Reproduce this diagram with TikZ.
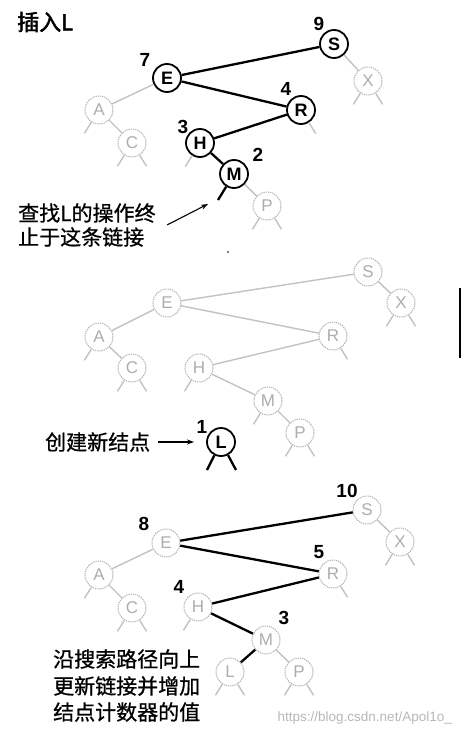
\documentclass[tikz,border=0pt]{standalone}
\usepackage{fontspec}
\newfontfamily\cjk[FakeBold=0.8]{Noto Sans CJK SC}
\newfontfamily\cjkb[FakeBold=2]{Noto Sans CJK SC}
\newfontfamily\lat{Liberation Sans}
\usetikzlibrary{arrows.meta}
\newcommand\gstubs[1]{\draw[glink] (#1.-122) -- ++(-122:13pt); \draw[glink] (#1.-58) -- ++(-58:13pt);}
\newcommand\gstubl[1]{\draw[glink] (#1.-122) -- ++(-122:13pt);}
\newcommand\gstubr[1]{\draw[glink] (#1.-58) -- ++(-58:13pt);}
\begin{document}
\begin{tikzpicture}[x=1pt,y=1pt,
  bnode/.style={circle,draw=black,line width=1.8pt,minimum size=28pt,inner sep=0pt,font=\lat\bfseries\fontsize{18}{18}\selectfont,fill=white},
  gnode/.style={circle,draw=black!30,line width=1pt,dash pattern=on 1.3pt off 0.9pt,minimum size=28pt,inner sep=0pt,font=\lat\fontsize{17}{17}\selectfont,text=black!32,fill=white},
  blink/.style={line width=2.3pt,black},
  glink/.style={line width=1.4pt,black!24},
  num/.style={font=\lat\bfseries\fontsize{19}{19}\selectfont,inner sep=0pt},
  cjktext/.style={font=\cjk\fontsize{21}{21}\selectfont,inner sep=0pt,anchor=west},
  arr/.style={line width=1.1pt,-{Stealth[length=7pt,width=5pt]}},
]
\useasboundingbox (0,0) rectangle (461,-738);
\fill[white] (0,0) rectangle (461,-738);

% ---------- top tree ----------
\node[font=\cjkb\fontsize{22}{22}\selectfont,inner sep=0pt,anchor=west] (title) at (17,-22) {插入L};
\node[bnode] (S1) at (334,-44) {S};
\node[gnode] (X1) at (368,-81) {X};
\node[bnode] (E1) at (167,-78) {E};
\node[gnode] (A1) at (99,-110) {A};
\node[gnode] (C1) at (132,-143) {C};
\node[bnode] (R1) at (301,-110) {R};
\node[bnode] (H1) at (200,-143) {H};
\node[bnode] (M1) at (234,-174) {M};
\node[gnode] (P1) at (267,-206) {P};
\node[num] (n9) at (319,-24) {9};
\node[num] (n7) at (145,-60) {7};
\node[num] (n4a) at (286,-89) {4};
\node[num] (n3a) at (183,-127) {3};
\node[num] (n2) at (258,-155) {2};
\draw[blink] (E1) -- (S1);
\draw[blink] (E1) -- (R1);
\draw[blink] (R1) -- (H1);
\draw[blink] (H1) -- (M1);
\draw[glink] (S1) -- (X1);
\draw[glink] (E1) -- (A1);
\draw[glink] (A1) -- (C1);
\draw[glink] (M1) -- (P1);
\gstubl{A1} \gstubs{C1} \gstubr{R1} \gstubl{H1} \gstubs{P1} \gstubs{X1}
\coordinate (mstub) at (218,-200);
\draw[blink] (M1) -- (mstub);
\node[cjktext] (t1a) at (18,-213) {查找L的操作终};
\node[cjktext] (t1b) at (18,-237) {止于这条链接};
\coordinate (a1s) at (167,-225);
\coordinate (a1e) at (208,-204);
\draw[arr] (a1s) -- (a1e);

% specks
\fill (228,-252) circle (0.9pt);
\draw[line width=1.4pt] (460,-288) -- (460,-358);

% ---------- middle tree ----------
\node[gnode] (S2) at (368,-272) {S};
\node[gnode] (X2) at (401,-303) {X};
\node[gnode] (E2) at (167,-303) {E};
\node[gnode] (A2) at (99,-337) {A};
\node[gnode] (C2) at (132,-368) {C};
\node[gnode] (R2) at (333,-336) {R};
\node[gnode] (H2) at (199,-368) {H};
\node[gnode] (M2) at (268,-401) {M};
\node[gnode] (P2) at (300,-433) {P};
\node[bnode] (L2) at (221,-442) {L};
\node[num] (n1) at (202,-427) {1};
\draw[glink] (S2) -- (E2);
\draw[glink] (S2) -- (X2);
\draw[glink] (E2) -- (A2);
\draw[glink] (E2) -- (R2);
\draw[glink] (A2) -- (C2);
\draw[glink] (R2) -- (H2);
\draw[glink] (H2) -- (M2);
\draw[glink] (M2) -- (P2);
\gstubl{A2} \gstubs{C2} \gstubr{R2} \gstubl{H2} \gstubl{M2} \gstubs{P2} \gstubs{X2}
\coordinate (lsl) at (207,-470);
\coordinate (lsr) at (236,-470);
\draw[blink] (L2) -- (lsl);
\draw[blink] (L2) -- (lsr);
\node[cjktext] (t2) at (45,-442) {创建新结点};
\coordinate (a2e) at (194,-442);
\draw[arr] ([xshift=8pt]t2.east) -- (a2e);

% ---------- bottom tree ----------
\node[gnode] (S3) at (367,-510) {S};
\node[gnode] (X3) at (400,-542) {X};
\node[gnode] (E3) at (166,-543) {E};
\node[gnode] (A3) at (99,-575) {A};
\node[gnode] (C3) at (132,-608) {C};
\node[gnode] (R3) at (333,-574) {R};
\node[gnode] (H3) at (198,-607) {H};
\node[gnode] (M3) at (266,-640) {M};
\node[gnode] (L3) at (230,-672) {L};
\node[gnode] (P3) at (299,-672) {P};
\node[num] (n10) at (347,-491) {10};
\node[num] (n8) at (144,-524) {8};
\node[num] (n5) at (319,-552) {5};
\node[num] (n4b) at (179,-587) {4};
\node[num] (n3b) at (284,-618) {3};
\draw[blink] (E3) -- (S3);
\draw[blink] (E3) -- (R3);
\draw[blink] (R3) -- (H3);
\draw[blink] (H3) -- (M3);
\draw[blink] (M3) -- (L3);
\draw[glink] (S3) -- (X3);
\draw[glink] (E3) -- (A3);
\draw[glink] (A3) -- (C3);
\draw[glink] (M3) -- (P3);
\gstubl{A3} \gstubs{C3} \gstubr{R3} \gstubl{H3} \gstubs{X3} \gstubs{L3} \gstubs{P3}
\node[cjktext] (t3a) at (53,-659) {沿搜索路径向上};
\node[cjktext] (t3b) at (53,-686) {更新链接并增加};
\node[cjktext] (t3c) at (53,-712) {结点计数器的值};
\node[font=\lat\fontsize{13.5}{13.5}\selectfont,text=black!28,inner sep=0pt,anchor=east] (wm) at (452,-718) {https://blog.csdn.net/Apol1o\_};
\end{tikzpicture}
\end{document}
